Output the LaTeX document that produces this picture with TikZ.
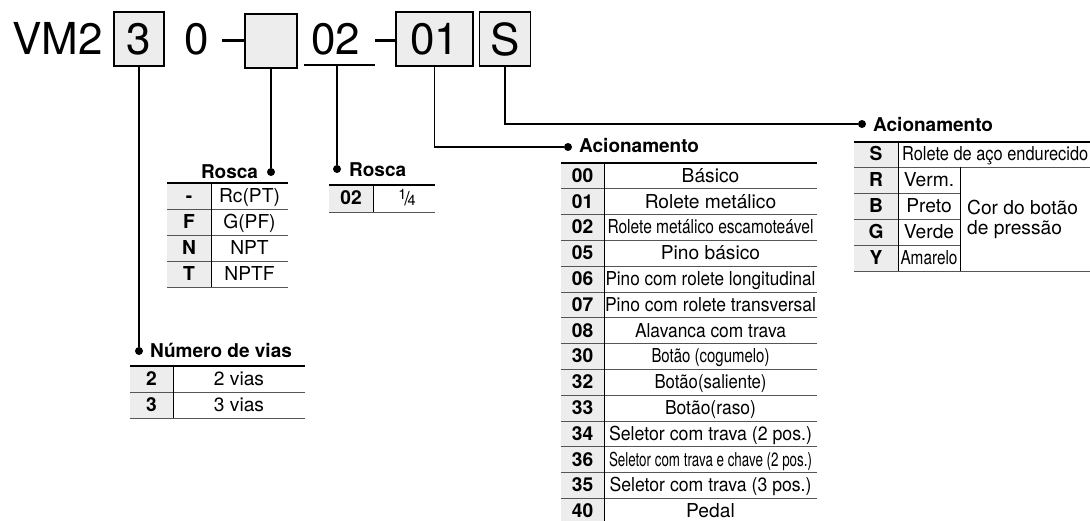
\documentclass[tikz,border=0pt]{standalone}
\usepackage{fontspec}
\setmainfont{TeX Gyre Heros}
\usepackage{graphicx}
\definecolor{xamnhat}{HTML}{EDEDED}
\definecolor{xamvien}{HTML}{555555}
% ép chữ theo chiều ngang
\newcommand{\nen}[2]{\resizebox{#1pt}{\height}{#2}}
% phân số một phần tư
\newcommand{\motphantu}{{\fontsize{14.5}{14.5}\selectfont\raisebox{6pt}{1}}\kern-2pt/\kern-2pt{\fontsize{14.5}{14.5}\selectfont 4}}

\begin{document}
\begin{tikzpicture}[x=1pt, y=-1pt,
	lon/.style={font=\fontsize{44}{44}\selectfont, inner sep=0pt},
	hop/.style={lon, draw, line width=1.5pt, fill=xamnhat, minimum height=54pt},
	so/.style={font=\fontsize{19.2}{21}\selectfont\bfseries, inner sep=0pt, anchor=base},
	chu/.style={font=\fontsize{19.2}{20}\selectfont, inner sep=0pt, anchor=base},
	tieude/.style={font=\fontsize{19}{21}\selectfont\bfseries, inner sep=0pt, anchor=base west},
	cham/.style={circle, fill, inner sep=0pt, minimum size=8pt},
	day/.style={line width=1.8pt},
	ke/.style={line width=0.9pt, xamvien},
	kedoc/.style={line width=0.9pt},
	kedam/.style={line width=2.2pt}]
				
				\useasboundingbox (0,0) rectangle (1090,521);
				\clip (0,0) rectangle (1090,521);
				
				% Mã sản phẩm
				\node[lon, anchor=base west] (vm) at (12,55) {VM2};
				\node[hop, minimum width=50pt] (o3) at (139,39) {3};
				\node[lon, anchor=base] (o0) at (196.5,55) {0};
				\draw[line width=3.5pt] (222,40.5) -- (245,40.5);
				\node[hop, minimum width=52pt] (oR) at (271,41) {};
				\node[lon, anchor=base] (o02) at (335.5,55) {02};
				\draw[day] (304,65) -- (375,65);
				\coordinate (g02) at (337,65);
				\draw[line width=3.5pt] (375,40.5) -- (396,40.5);
				\node[hop, minimum width=77pt] (o01) at (434.5,39) {01};
				\node[hop, minimum width=51pt] (oS) at (505,39) {S};
				
				% Các chấm và đường dẫn
				\node[cham] (dN) at (139,351) {};
				\node[cham] (dR1) at (271,172) {};
				\node[cham] (d02) at (337,169) {};
				\node[cham] (dA1) at (568,147) {};
				\node[cham] (dA2) at (862,124) {};
				\draw[day] (o3) -- (dN);
				\draw[day] (oR) -- (dR1);
				\draw[day] (g02) -- (d02);
				\draw[day] (o01) |- (dA1);
				\draw[day] (oS) |- (dA2);
				
				% Tiêu đề các bảng
				\node[tieude] (tN) at (150,357) {Número de vias};
				\node[tieude, anchor=base] (tR1) at (229.5,179) {Rosca};
				\node[tieude] (tR2) at (349,177) {Rosca};
				\node[tieude] (tA1) at (579,153) {Acionamento};
				\node[tieude] (tA2) at (873,132) {Acionamento};
				
				% Bảng số đường
				\fill[xamnhat] (130,366) rectangle (173,418);
				\foreach \ma/\ten [count=\i] in {2/2 vias, 3/3 vias} {
					\node[so] at (151.5,{366+26*\i-6.5}) {\ma};
					\node[chu] at (239,{366+26*\i-6.5}) {\ten};
					\draw[ke] (130,{366+26*\i}) -- (305,{366+26*\i});
				}
				\draw[kedam] (130,366) -- (305,366);
				\draw[kedoc] (173,366) -- (173,418);
				
				% Bảng ren thứ nhất
				\fill[xamnhat] (167,183) rectangle (211,287);
				\foreach \ma/\ten [count=\i] in {-/Rc(PT), F/G(PF), N/NPT, T/NPTF} {
					\node[so] at (189,{183+26*\i-6.5}) {\ma};
					\node[chu] at (249.5,{183+26*\i-6.5}) {\ten};
					\draw[ke] (167,{183+26*\i}) -- (288,{183+26*\i});
				}
				\draw[kedam] (167,183) -- (288,183);
				\draw[kedoc] (211,183) -- (211,287);
				
				% Bảng ren thứ hai
				\fill[xamnhat] (329,185) rectangle (373,212);
				\node[so] at (351,204.5) {02};
				\node[chu] at (407,205.5) {\motphantu};
				\draw[ke] (329,212) -- (435,212);
				\draw[kedam] (329,185) -- (435,185);
				\draw[kedoc] (373,185) -- (373,212);
				
				% Bảng kiểu tác động
				\fill[xamnhat] (561,163) rectangle (604,527);
				\foreach \ma/\ten [count=\i] in {00/Básico, 01/Rolete metálico,
					02/{\nen{206}{Rolete metálico escamoteável}}, 05/Pino básico,
					06/{\nen{210}{Pino com rolete longitudinal}},
					07/{\nen{211}{Pino com rolete transversal}},
					08/{\nen{151}{Alavanca com trava}}, 30/{\nen{118}{Botão (cogumelo)}},
					32/{\nen{112}{Botão(saliente)}}, 33/{\nen{91}{Botão(raso)}},
					34/{\nen{203}{Seletor com trava (2 pos.)}},
					36/{\nen{203}{Seletor com trava e chave (2 pos.)}},
					35/{\nen{202}{Seletor com trava (3 pos.)}}, 40/Pedal} {
					\node[so] at (582.5,{163+25.8*\i-6.5}) {\ma};
					\node[chu] at (710.5,{163+25.8*\i-6.5}) {\ten};
					\draw[ke] (561,{163+25.8*\i}) -- (817,{163+25.8*\i});
				}
				\draw[kedam] (561,163) -- (817,163);
				\draw[kedoc] (604,163) -- (604,527);
				
				% Bảng con lăn và màu nút
				\fill[xamnhat] (854,142) rectangle (898,271);
				\node[so] at (876,161) {S};
				\node[chu, anchor=base west] at (902,161) {\nen{186}{Rolete de aço endurecido}};
				\foreach \ma/\ten [count=\i] in {R/Verm., B/Preto, G/Verde, Y/{\nen{57}{Amarelo}}} {
					\node[so] at (876,{167+26*\i-6.5}) {\ma};
					\node[chu] at (929,{167+26*\i-6.5}) {\ten};
					\draw[ke] (854,{167+26*\i}) -- (960,{167+26*\i});
				}
				\node[chu, anchor=west, align=left] at (967,219) {Cor do botão\\de pressão};
				\draw[ke] (854,167) -- (1090,167);
				\draw[ke] (854,271) -- (1090,271);
				\draw[kedam] (854,142) -- (1090,142);
				\draw[kedoc] (898,142) -- (898,271);
				\draw[kedoc] (960,167) -- (960,271);
				
			\end{tikzpicture}
\end{document}
